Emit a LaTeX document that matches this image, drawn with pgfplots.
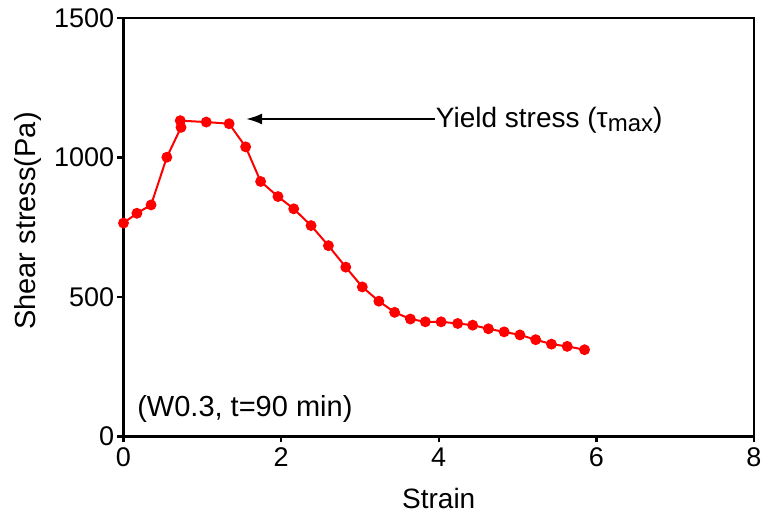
\documentclass[border=0pt]{standalone}
\usepackage{fontspec}
\setmainfont{Liberation Sans}
\usepackage{pgfplots}
\pgfplotsset{compat=1.18}
\usetikzlibrary{arrows.meta}

\begin{document}
\begin{tikzpicture}
\begin{axis}[
    name=main,
    scale only axis,
    width=315.25pt, height=209.25pt,
    xmin=0, xmax=8, ymin=0, ymax=1500,
    xtick={0,2,...,8}, ytick={0,500,1000,1500},
    axis line style={line width=1.2pt},
    tick style={line width=1.2pt, black},
    tick align=outside,
    major tick length=3pt,
    xtick pos=bottom, ytick pos=left,
    /pgf/number format/assume math mode=true,
    /pgf/number format/1000 sep={},
    ticklabel style={font=\fontsize{13.5}{15}\selectfont},
    yticklabel style={inner sep=1.5pt},
    xticklabel style={inner sep=2.5pt},
    xlabel={Strain},
    ylabel={Shear stress(Pa)},
    every axis x label/.style={at={(axis description cs:0.5,-0.1732)}, anchor=base,
        font=\fontsize{14}{16}\selectfont},
    every axis y label/.style={at={(axis description cs:-0.1515,0.515)}, anchor=center,
        rotate=90, font=\fontsize{14.5}{16}\selectfont},
    clip=false
]
% shear stress vs strain
\addplot[color=red, line width=1pt, mark=*, mark size=2.2pt] coordinates {
    (0,765) (0.17,800) (0.35,830) (0.55,1001) (0.73,1108) (0.72,1132)
    (1.05,1127) (1.34,1121) (1.55,1038) (1.74,914) (1.96,860) (2.16,816)
    (2.38,756) (2.60,684) (2.82,607) (3.03,536) (3.24,485) (3.44,445)
    (3.64,421) (3.83,411) (4.03,411) (4.24,405) (4.43,399) (4.63,386)
    (4.83,375) (5.03,364) (5.23,347) (5.43,331) (5.63,323) (5.85,311)
};
\draw[-{Latex[length=8pt,width=5.5pt]}, line width=1.1pt] (axis cs:3.95,1138) -- (axis cs:1.555,1138);
\node[anchor=base west, inner sep=0pt, font=\fontsize{14}{16}\selectfont] at (axis cs:3.96,1106) {Yield stress (τ\raisebox{-2pt}{\fontsize{12}{13}\selectfont max})};
\node[anchor=base west, inner sep=0pt, font=\fontsize{14.5}{16}\selectfont] at (axis cs:0.17,70) {(W0.3, t=90 min)};
\end{axis}
\pgfresetboundingbox
\useasboundingbox ([shift={(-61.75pt,-40.25pt)}]main.south west) rectangle ([shift={(3.5pt,9pt)}]main.north east);
\end{tikzpicture}
\end{document}
